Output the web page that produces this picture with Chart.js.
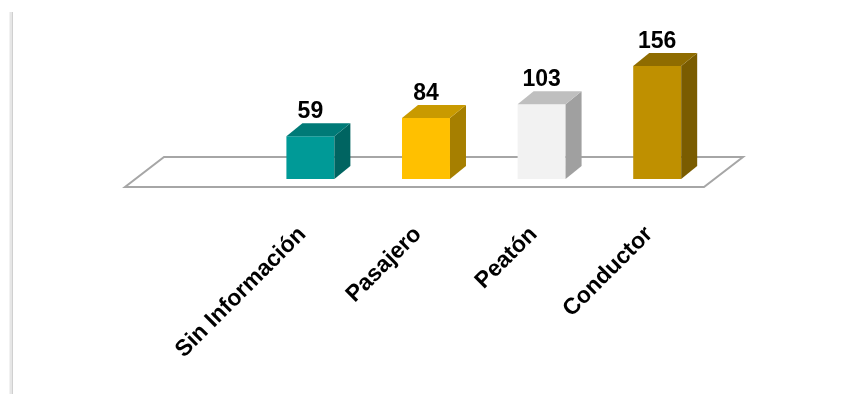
<!DOCTYPE html>
<html>
<head>
<meta charset="utf-8">
<script src="https://cdn.jsdelivr.net/npm/chart.js@4"></script>
<style>
  html, body { margin: 0; padding: 0; background: #ffffff; }
  #wrap { width: 849px; height: 394px; position: relative; }
</style>
</head>
<body>
<div id="wrap"><canvas id="grafico"></canvas></div>
<script>
// Datos del gráfico (la primera categoría va vacía, como en el original)
const categorias = ['', 'Sin Información', 'Pasajero', 'Peatón', 'Conductor'];
const valores = [null, 59, 84, 103, 156];

// Colores de cada caja: frente, tapa y costado
const coloresFrente = ['#000000', '#009a97', '#ffc000', '#f2f2f2', '#bf9000'];
const coloresTapa = ['#000000', '#007a77', '#c99a00', '#bfbfbf', '#8f6c00'];
const coloresCostado = ['#000000', '#006461', '#a67f00', '#a0a0a0', '#7a5c00'];

// Profundidad de las cajas
const prof = { dx: 16, dy: -13 };

// Piso en perspectiva (antes de las barras) y caras 3D + valores (después)
const pisoPlugin = {
    id: 'piso',
    beforeDatasetsDraw(chart) {
        const ctx = chart.ctx;
        const x = chart.scales.x;
        const base = chart.scales.y.getPixelForValue(0);
        ctx.save();
        // línea vertical gris a la izquierda
        ctx.strokeStyle = '#e6e6e6';
        ctx.lineWidth = 3;
        ctx.beginPath();
        ctx.moveTo(11, 12);
        ctx.lineTo(11, 394);
        ctx.stroke();
        ctx.strokeStyle = '#d0d0d0';
        ctx.lineWidth = 1;
        ctx.beginPath();
        ctx.moveTo(12.5, 12);
        ctx.lineTo(12.5, 394);
        ctx.stroke();

        ctx.beginPath();
        ctx.moveTo(x.left - 12, base + 8);
        ctx.lineTo(x.right - 11, base + 8);
        ctx.lineTo(x.right + 28, base - 22);
        ctx.lineTo(x.left + 27, base - 22);
        ctx.closePath();
        ctx.fillStyle = '#ffffff';
        ctx.fill();
        ctx.strokeStyle = '#a6a6a6';
        ctx.lineWidth = 2;
        ctx.stroke();
        ctx.restore();
    },
    afterDatasetsDraw(chart) {
        const ctx = chart.ctx;
        const meta = chart.getDatasetMeta(0);
        ctx.save();
        meta.data.forEach(function (bar, i) {
            if (valores[i] == null) return;
            const p = bar.getProps(['x', 'y', 'base', 'width'], true);
            const izq = p.x - p.width / 2;
            const der = p.x + p.width / 2;
            // costado
            ctx.fillStyle = coloresCostado[i];
            ctx.beginPath();
            ctx.moveTo(der, p.y);
            ctx.lineTo(der + prof.dx, p.y + prof.dy);
            ctx.lineTo(der + prof.dx, p.base + prof.dy);
            ctx.lineTo(der, p.base);
            ctx.closePath();
            ctx.fill();
            // tapa
            ctx.fillStyle = coloresTapa[i];
            ctx.beginPath();
            ctx.moveTo(izq, p.y);
            ctx.lineTo(izq + prof.dx, p.y + prof.dy);
            ctx.lineTo(der + prof.dx, p.y + prof.dy);
            ctx.lineTo(der, p.y);
            ctx.closePath();
            ctx.fill();
            // valor encima
            ctx.fillStyle = '#000000';
            ctx.font = 'bold 23px "Liberation Sans", Arial, sans-serif';
            ctx.textAlign = 'center';
            ctx.textBaseline = 'alphabetic';
            ctx.fillText(String(valores[i]), p.x, p.y + prof.dy - 5);
        });
        ctx.restore();
    }
};

new Chart(document.getElementById('grafico'), {
    type: 'bar',
    data: {
        labels: categorias,
        datasets: [{
            data: valores,
            backgroundColor: coloresFrente,
            borderWidth: 0,
            categoryPercentage: 1,
            barPercentage: 0.415
        }]
    },
    options: {
        responsive: true,
        maintainAspectRatio: false,
        animation: false,
        layout: {
            padding: { left: 137, right: 134, top: 34, bottom: 0 }
        },
        scales: {
            y: {
                display: false,
                min: 0,
                max: 200
            },
            x: {
                grid: { display: false, drawTicks: false },
                border: { display: false },
                ticks: {
                    autoSkip: false,
                    minRotation: 45,
                    maxRotation: 45,
                    padding: 42,
                    labelOffset: -8,
                    color: '#000000',
                    font: { family: '"Liberation Sans", Arial, sans-serif', size: 23, weight: 'bold' }
                },
                afterFit: function (scale) {
                    scale.height = 215;
                }
            }
        },
        plugins: {
            legend: { display: false },
            tooltip: { enabled: false }
        }
    },
    plugins: [pisoPlugin]
});
</script>
</body>
</html>
